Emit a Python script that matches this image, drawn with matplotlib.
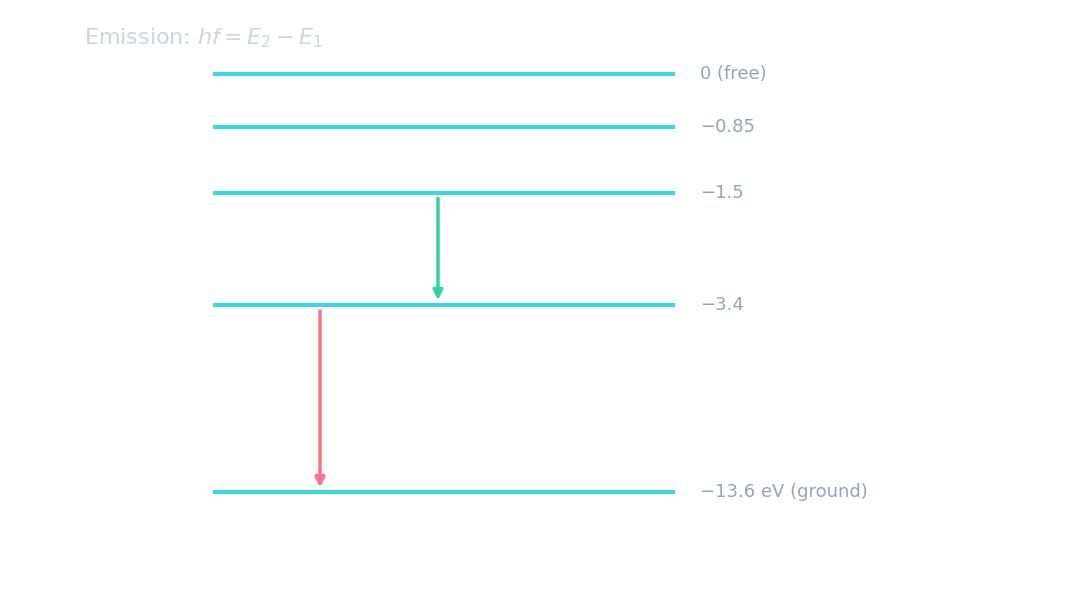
import matplotlib
matplotlib.use("Agg")
import matplotlib.pyplot as plt

energies = [0, -0.85, -1.5, -3.4, -13.6]
labels = ["0 (free)", "\u22120.85", "\u22121.5", "\u22123.4", "\u221213.6 eV (ground)"]
# schematic (not to scale) vertical placement of each level
level_pos = [0.0, 0.85, 1.9, 3.7, 6.7]
transitions = [(-1.5, -3.4, "#34d399", 0.438), (-3.4, -13.6, "#fb7185", 0.320)]

fig = plt.figure(figsize=(10.86, 6.06), dpi=100)
ax = fig.add_axes([0, 0, 1, 1])
ax.set_xlim(0, 1.086)
# map pixel rows: pos 0 -> y 74px, pos 6.7 -> y 492px
scale = (492 - 74) / 6.7
top = -74 / scale
bottom = (606 - 74) / scale
ax.set_ylim(bottom, top)
ax.axis("off")

pos = dict(zip(energies, level_pos))
for e, p, lab in zip(energies, level_pos, labels):
    ax.plot([0.213, 0.675], [p, p], color="#3dd6e8", lw=3, solid_capstyle="butt")
    ax.text(0.700, p, lab, color="#94a3b8", fontsize=13, va="center", ha="left")

for e1, e2, c, x in transitions:
    ax.annotate("", xy=(x, pos[e2] - 0.03), xytext=(x, pos[e1] + 0.05),
                arrowprops=dict(arrowstyle="-|>", color=c, lw=2.5, mutation_scale=14))

ax.text(0.084, top + 38 / scale, r"Emission: $hf = E_2 - E_1$", color="#cbd5e1",
        fontsize=16, va="center", ha="left")

fig.savefig("out.png", dpi=100, facecolor="white")
